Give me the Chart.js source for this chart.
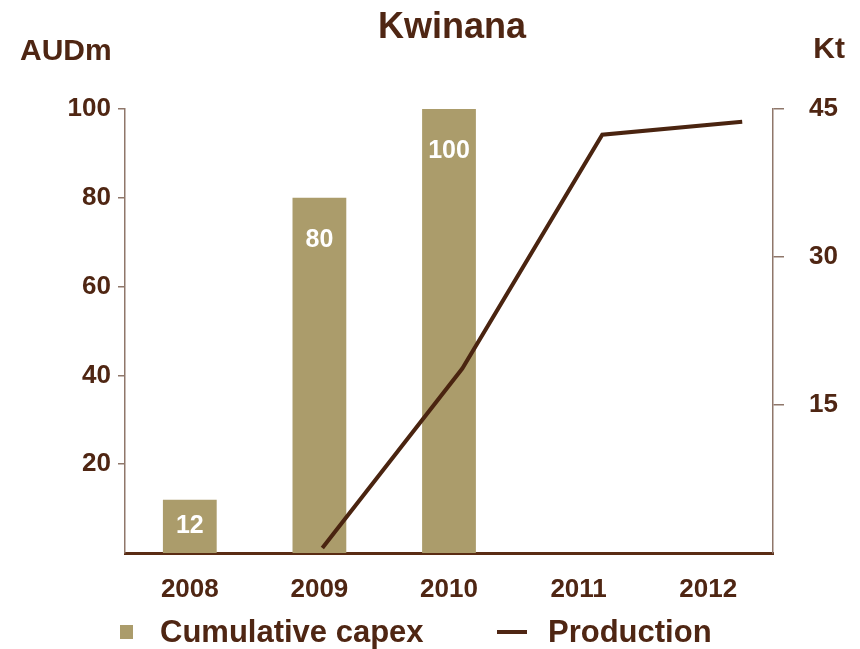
<!DOCTYPE html>
<html>
<head>
<meta charset="utf-8">
<script src="https://cdn.jsdelivr.net/npm/chart.js@4"></script>
<style>
    html, body { margin: 0; padding: 0; background: #ffffff; }
    #wrap { width: 860px; height: 649px; }
</style>
</head>
<body>
<div id="wrap"><canvas id="kwinanaChart" width="860" height="649"></canvas></div>
<script>
const years = ['2008', '2009', '2010', '2011', '2012'];
const capexValues = [12, 80, 100, null, null];
const productionYears = [2009, 2010, 2011, 2012];
const productionValues = [0.5, 18.7, 42.4, 43.7];
const capexTicks = [20, 40, 60, 80, 100];
const productionTicks = [15, 30, 45];

const brown = '#4f2613';
const khaki = '#ab9c6b';
const axisGrey = '#8f776a';
const fontFamily = '"Liberation Sans", Arial, sans-serif';

// white value labels inside the capex bars
const barLabels = {
    id: 'barLabels',
    afterDatasetsDraw(chart) {
        const ctx = chart.ctx;
        const meta = chart.getDatasetMeta(0);
        ctx.save();
        ctx.fillStyle = '#ffffff';
        ctx.font = `bold 25px ${fontFamily}`;
        ctx.textAlign = 'center';
        ctx.textBaseline = 'middle';
        meta.data.forEach((bar, i) => {
            const value = capexValues[i];
            if (value === null) {
                return;
            }
            const y = Math.min(bar.y + 42, (bar.y + bar.base) / 2);
            ctx.fillText(String(value), bar.x, y);
        });
        ctx.restore();
    }
};

// title, axis units and the legend row
const decorations = {
    id: 'decorations',
    afterDraw(chart) {
        const ctx = chart.ctx;
        ctx.save();
        ctx.fillStyle = brown;
        ctx.textBaseline = 'middle';

        ctx.font = `bold 36px ${fontFamily}`;
        ctx.textAlign = 'center';
        ctx.fillText('Kwinana', 452, 28);

        ctx.font = `bold 30px ${fontFamily}`;
        ctx.textAlign = 'left';
        ctx.fillText('AUDm', 20, 52);
        ctx.textAlign = 'right';
        ctx.fillText('Kt', 845, 50);

        // legend
        ctx.fillStyle = khaki;
        ctx.fillRect(120, 625, 13, 14);
        ctx.strokeStyle = brown;
        ctx.lineWidth = 4;
        ctx.beginPath();
        ctx.moveTo(497, 632);
        ctx.lineTo(527, 632);
        ctx.stroke();

        ctx.fillStyle = brown;
        ctx.font = `bold 31px ${fontFamily}`;
        ctx.textAlign = 'left';
        ctx.fillText('Cumulative capex', 160, 633);
        ctx.fillText('Production', 548, 633);
        ctx.restore();
    }
};

const tickFont = { family: fontFamily, size: 26, weight: 'bold' };

new Chart(document.getElementById('kwinanaChart'), {
    type: 'bar',
    data: {
        labels: years,
        datasets: [
            {
                type: 'bar',
                label: 'Cumulative capex',
                data: capexValues,
                xAxisID: 'x',
                yAxisID: 'y',
                backgroundColor: khaki,
                borderWidth: 0,
                grouped: false,
                categoryPercentage: 1,
                barPercentage: 0.415,
                order: 1
            },
            {
                type: 'line',
                label: 'Production',
                data: productionYears.map((year, i) => ({ x: year, y: productionValues[i] })),
                xAxisID: 'xLine',
                yAxisID: 'y2',
                borderColor: '#4a2410',
                borderWidth: 4,
                pointRadius: 0,
                tension: 0,
                order: 0
            }
        ]
    },
    options: {
        responsive: false,
        animation: false,
        layout: {
            padding: { top: 109, left: 0, right: 22, bottom: 0 }
        },
        plugins: {
            legend: { display: false },
            title: { display: false },
            tooltip: { enabled: false }
        },
        scales: {
            x: {
                type: 'category',
                position: 'bottom',
                offset: true,
                grid: { display: false, drawTicks: false },
                border: { display: true, color: '#5a2c14', width: 3 },
                ticks: { color: brown, font: tickFont, padding: 21, maxRotation: 0 },
                afterFit: (scale) => { scale.height = 96; }
            },
            xLine: {
                type: 'linear',
                display: false,
                offset: false,
                bounds: 'ticks',
                min: 2007.59,
                max: 2012.22
            },
            y: {
                position: 'left',
                min: 0,
                max: 100,
                afterBuildTicks: (scale) => {
                    scale.ticks = capexTicks.map((value) => ({ value }));
                },
                grid: {
                    drawOnChartArea: false,
                    drawTicks: true,
                    tickLength: 7,
                    color: axisGrey,
                    lineWidth: 1.5
                },
                border: { display: true, color: axisGrey, width: 1.5 },
                ticks: { color: brown, font: tickFont, padding: 7 },
                afterFit: (scale) => { scale.width = 125; }
            },
            y2: {
                position: 'right',
                min: 0,
                max: 45,
                afterBuildTicks: (scale) => {
                    scale.ticks = productionTicks.map((value) => ({ value }));
                },
                grid: {
                    drawOnChartArea: false,
                    drawTicks: true,
                    tickLength: 11,
                    color: axisGrey,
                    lineWidth: 1.5
                },
                border: { display: true, color: axisGrey, width: 1.5 },
                ticks: { color: brown, font: tickFont, padding: 24, crossAlign: 'far' },
                afterFit: (scale) => { scale.width = 65; }
            }
        }
    },
    plugins: [barLabels, decorations]
});
</script>
</body>
</html>
